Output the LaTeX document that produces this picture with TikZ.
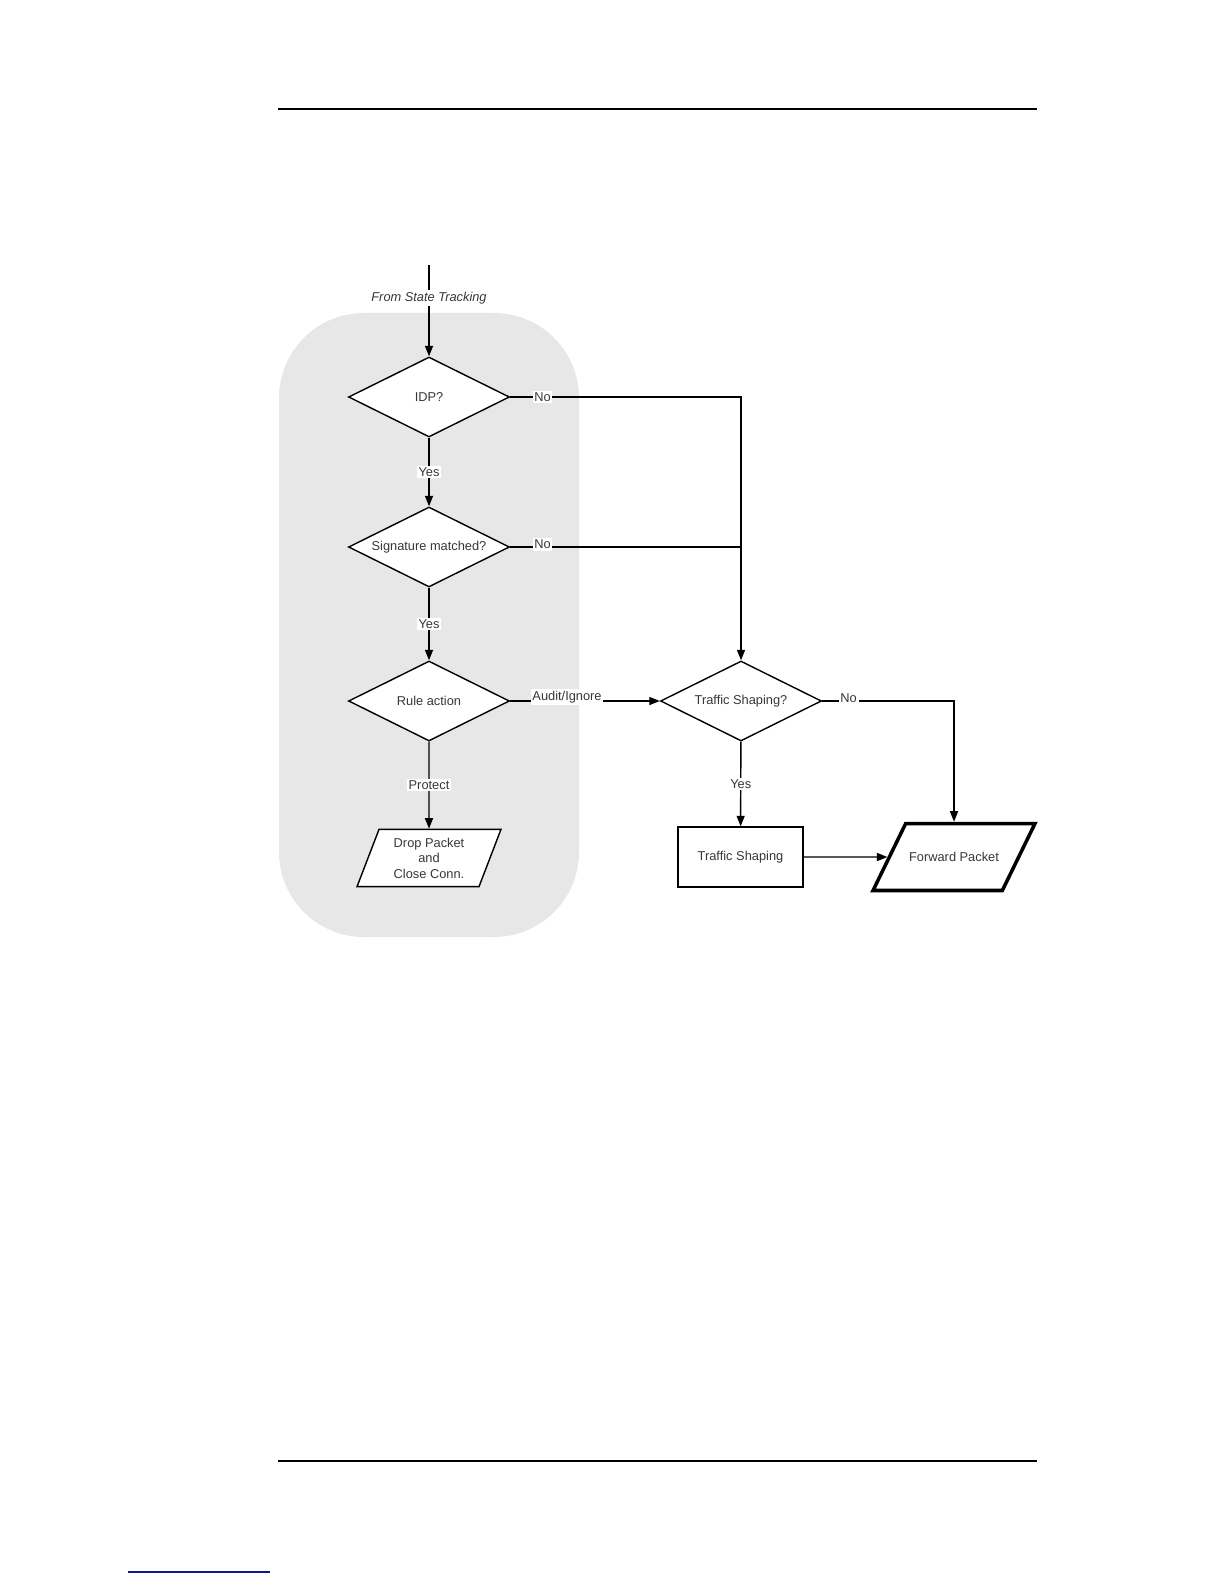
\documentclass[tikz,border=0pt]{standalone}
\usepackage{fontspec}
\setmainfont{Liberation Sans}
\usetikzlibrary{arrows.meta,calc,shapes.geometric}
\definecolor{zonegray}{RGB}{231,231,231}
\definecolor{inkgray}{RGB}{55,55,55}
\definecolor{linkblue}{RGB}{20,20,140}
\newcommand{\chartfont}{\fontsize{7.3}{8.8}\selectfont}
\tikzset{
    flow/.style={-{Triangle[length=6pt,width=4.6pt]}, line width=0.8pt},
    link/.style={line width=0.8pt},
    note/.style={font=\chartfont, text=inkgray, fill=white, inner sep=1pt},
    raised/.style={note, anchor=south, yshift=-2.6pt},
    choice/.style={diamond, draw, line width=0.8pt, fill=white, aspect=2,
                   inner sep=0pt, minimum width=3.22cm, minimum height=1.6cm,
                   font=\chartfont, text=inkgray, align=center},
    box/.style={draw, line width=0.8pt, fill=white, minimum width=2.5cm,
                minimum height=1.2cm, font=\chartfont, text=inkgray},
    io/.style={trapezium, trapezium left angle=69, trapezium right angle=111,
               trapezium stretches body=true, draw, line width=0.8pt, fill=white,
               inner xsep=0pt, font=\chartfont, text=inkgray, align=center},
}

\begin{document}
\begin{tikzpicture}[x=0.02cm, y=-0.02cm]
    \useasboundingbox (0,0) rectangle (1224,1584);

    % page rules
    \draw[line width=1.1pt] (278,109) -- (1037,109);
    \draw[line width=1.1pt] (278,1461) -- (1037,1461);
    \draw[linkblue, line width=0.8pt] (128,1572) -- (270,1572);

    % IDP zone
    \fill[zonegray, rounded corners=1.7cm] (279,313) rectangle (579,937);

    \coordinate (in) at (429,265);
    \node[choice] (idp) at (429,397) {IDP?};
    \node[choice] (sig) at (429,547) {Signature matched?};
    \node[choice] (rule) at (429,701) {Rule action};
    \node[io, minimum width=2.88cm, inner ysep=0.17cm] (drop) at (429,858)
        {Drop Packet\\and\\Close Conn.};

    \node[choice] (shapeq) at (741,701) {Traffic Shaping?};
    \node[box] (shaper) at (740.5,857) {Traffic Shaping};
    \node[io, line width=2pt, trapezium left angle=64, trapezium right angle=116,
          inner ysep=0pt, text height=0.76cm, text depth=0.58cm,
          minimum width=3.24cm] (fwd) at (954,857) {Forward Packet};
    \coordinate (idpno) at (741,397);
    \coordinate (signo) at (741,547);

    \draw[flow] (in) -- node[note, pos=0.36, font=\chartfont\itshape] {From State Tracking} (idp);
    \draw[flow] (idp) -- node[note] {Yes} (sig);
    \draw[flow] (sig) -- node[note] {Yes} (rule);
    \draw[flow] (rule) -- node[note] {Protect} (drop);

    \draw[flow] (idp.east) -- node[note, pos=0.14] {No} (idpno) -- (shapeq);
    \draw[link] (sig.east) -- node[raised, pos=0.14] {No} (signo);
    \draw[flow] (rule.east) -- node[raised, pos=0.38] {Audit/Ignore} (shapeq.west);

    \draw[flow] (shapeq.east) -| node[raised, pos=0.1] {No} (fwd.north);
    \draw[flow] (shapeq) -- node[note] {Yes} (shaper);
    \draw[flow] (shaper) -- (fwd);
\end{tikzpicture}
\end{document}
